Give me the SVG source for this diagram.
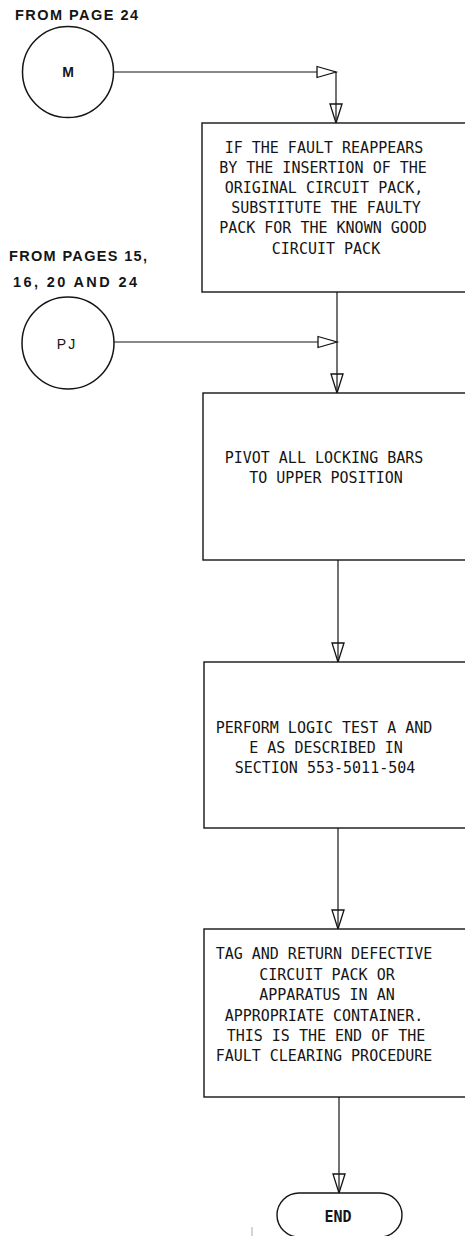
<svg xmlns="http://www.w3.org/2000/svg" width="465" height="1236" viewBox="0 0 465 1236">
<style>
.bg{fill:#fff}
.box{fill:#fff;stroke:#151515;stroke-width:1.4}
.circ{fill:#fff;stroke:#151515;stroke-width:1.5}
.ln{fill:none;stroke:#151515;stroke-width:1.2}
.t{font-family:"DejaVu Sans Mono","Liberation Mono",monospace;font-size:15px;fill:#151515;text-anchor:middle}
.lbl{font-family:"Liberation Sans",Arial,sans-serif;font-size:14.5px;font-weight:bold;fill:#151515}
.c{font-family:"Liberation Sans",Arial,sans-serif;font-size:14px;fill:#151515;text-anchor:middle}
</style>
<defs>
<marker id="ar" markerWidth="22" markerHeight="14" refX="20" refY="7" orient="auto" markerUnits="userSpaceOnUse" overflow="visible">
<path d="M1,1.5 L20,7 L1,12.5 Z" fill="#fff" stroke="#151515" stroke-width="1.3"/>
</marker>
<marker id="ad" markerWidth="22" markerHeight="14" refX="20" refY="7" orient="auto" markerUnits="userSpaceOnUse" overflow="visible">
<path d="M1,1 L20,7 L1,13 Z" fill="none" stroke="#151515" stroke-width="1.3"/>
</marker>
</defs>
<rect class="bg" x="0" y="0" width="465" height="1236"/>

<g id="label-m">
<text class="lbl" x="15" y="20" textLength="123" lengthAdjust="spacing">FROM PAGE 24</text>
</g>
<g id="label-pj">
<text class="lbl" x="9" y="261" textLength="138" lengthAdjust="spacing">FROM PAGES 15,</text>
<text class="lbl" x="13" y="287" textLength="124" lengthAdjust="spacing">16, 20 AND 24</text>
</g>

<g id="connectors">
<line class="ln" x1="114" y1="72" x2="336" y2="72" marker-end="url(#ar)"/>
<line class="ln" x1="336" y1="72" x2="336" y2="123" marker-end="url(#ad)"/>
<line class="ln" x1="114" y1="342" x2="337" y2="342" marker-end="url(#ar)"/>
<line class="ln" x1="337" y1="292" x2="337" y2="393" marker-end="url(#ad)"/>
<line class="ln" x1="338" y1="560" x2="338" y2="662" marker-end="url(#ad)"/>
<line class="ln" x1="338" y1="828" x2="338" y2="929" marker-end="url(#ad)"/>
<line class="ln" x1="339" y1="1097" x2="339" y2="1193" marker-end="url(#ad)"/>
</g>

<g id="node-m">
<circle class="circ" cx="68" cy="72" r="45.5"/>
<text class="c" x="68" y="77" font-weight="bold">M</text>
</g>

<g id="node-pj">
<circle class="circ" cx="68" cy="343" r="46"/>
<text class="c" x="67" y="349" letter-spacing="2">PJ</text>
</g>

<g id="node-substitute">
<rect class="box" x="202" y="123" width="272" height="169"/>
<text class="t" x="324" y="153">IF THE FAULT REAPPEARS</text>
<text class="t" x="323" y="173">BY THE INSERTION OF THE</text>
<text class="t" x="324" y="193">ORIGINAL CIRCUIT PACK,</text>
<text class="t" x="326" y="213">SUBSTITUTE THE FAULTY</text>
<text class="t" x="323" y="233">PACK FOR THE KNOWN GOOD</text>
<text class="t" x="326" y="254">CIRCUIT PACK</text>
</g>

<g id="node-pivot">
<rect class="box" x="203" y="393" width="272" height="167"/>
<text class="t" x="324" y="463">PIVOT ALL LOCKING BARS</text>
<text class="t" x="326" y="483">TO UPPER POSITION</text>
</g>

<g id="node-logic">
<rect class="box" x="204" y="662" width="272" height="166"/>
<text class="t" x="324" y="733">PERFORM LOGIC TEST A AND</text>
<text class="t" x="326" y="753">E AS DESCRIBED IN</text>
<text class="t" x="325" y="773">SECTION 553-5011-504</text>
</g>

<g id="node-tag">
<rect class="box" x="204" y="929" width="272" height="168"/>
<text class="t" x="324" y="959">TAG AND RETURN DEFECTIVE</text>
<text class="t" x="327" y="980">CIRCUIT PACK OR</text>
<text class="t" x="327" y="1000">APPARATUS IN AN</text>
<text class="t" x="324" y="1021">APPROPRIATE CONTAINER.</text>
<text class="t" x="326" y="1041">THIS IS THE END OF THE</text>
<text class="t" x="324" y="1061">FAULT CLEARING PROCEDURE</text>
</g>

<g id="node-end">
<rect class="box" x="277" y="1193" width="125" height="44" rx="22" ry="22"/>
<text class="t" x="338" y="1222" font-weight="bold">END</text>
</g>

<line x1="252" y1="1227" x2="252" y2="1236" stroke="#aaa" stroke-width="1"/>
</svg>
